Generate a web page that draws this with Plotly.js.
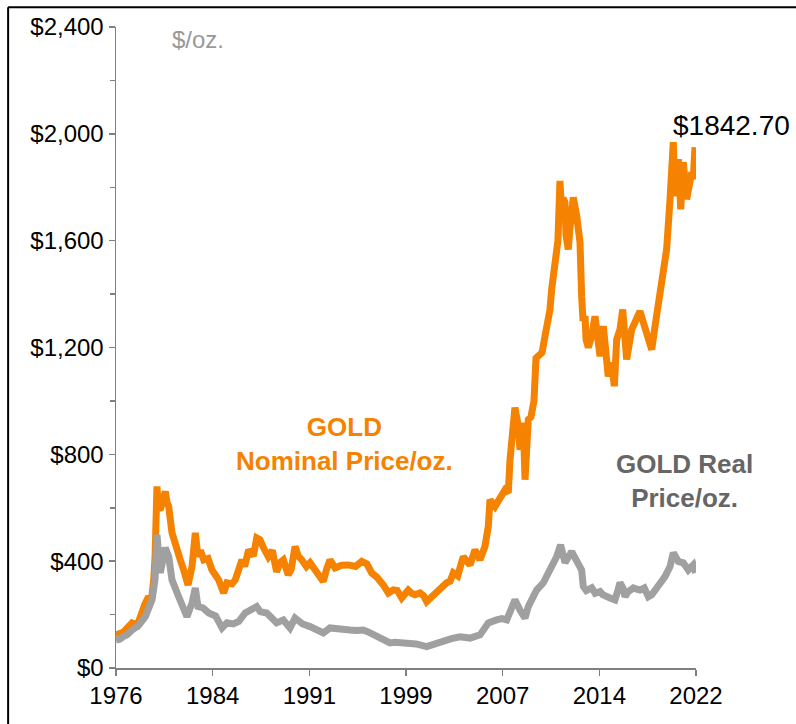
<!DOCTYPE html>
<html>
<head>
<meta charset="utf-8">
<script src="https://cdn.plot.ly/plotly-3.0.1.min.js"></script>
<style>
html,body{margin:0;padding:0;background:#fff;}
#chart{width:796px;height:724px;}
</style>
</head>
<body>
<div id="chart"></div>
<script>
// Nominal gold price ($/oz.), decimal years
const nominalYears = [1976.00,1976.3,1976.6,1976.9,1977.27,1977.7,1978.06,1978.3,1978.59,1978.8,1978.99,1979.1,1979.25,1979.35,1979.51,1979.7,1979.91,1980.05,1980.18,1980.44,1980.70,1980.9,1981.10,1981.37,1981.71,1982.03,1982.29,1982.50,1982.7,1982.96,1983.3,1983.61,1984.14,1984.54,1984.80,1985.2,1985.46,1985.99,1986.2,1986.52,1986.9,1987.16,1987.42,1987.7,1987.95,1988.08,1988.4,1988.74,1989.0,1989.27,1989.66,1989.9,1990.20,1990.45,1990.73,1991.1,1991.39,1991.78,1992.18,1992.44,1992.7,1992.97,1993.37,1993.9,1994.42,1995.0,1995.49,1995.9,1996.28,1996.7,1997.20,1997.60,1997.99,1998.3,1998.66,1999.18,1999.45,1999.71,2000.11,2000.4,2000.64,2001.0,2001.30,2001.8,2002.23,2002.5,2002.75,2003.1,2003.54,2004.08,2004.47,2004.87,2005.26,2005.53,2005.66,2006.06,2006.45,2006.85,2007.11,2007.25,2007.64,2007.91,2008.04,2008.30,2008.44,2008.70,2008.91,2009.15,2009.31,2009.63,2009.79,2010.02,2010.42,2010.55,2010.82,2010.95,2011.05,2011.21,2011.35,2011.45,2011.61,2011.69,2011.87,2012.01,2012.27,2012.54,2012.80,2012.93,2013.04,2013.20,2013.28,2013.46,2013.73,2013.99,2014.23,2014.39,2014.65,2014.86,2015.04,2015.31,2015.52,2015.71,2015.97,2016.19,2016.37,2016.50,2016.90,2017.30,2017.56,2017.82,2018.22,2018.49,2018.75,2019.14,2019.41,2019.67,2019.94,2020.20,2020.33,2020.60,2020.79,2020.99,2021.26,2021.47,2021.66,2021.78,2021.92];
const nominalPrice = [124,130,135,150,169,160,218,240,267,250,330,420,680,600,592,640,661,620,605,506,456,430,405,367,311,380,506,417,440,405,410,367,330,281,319,315,330,405,380,442,420,487,480,450,431,417,440,360,395,405,349,370,455,420,405,380,394,367,342,324,370,405,375,385,386,380,399,390,356,340,311,281,292,290,262,292,280,274,281,270,249,265,281,295,319,325,356,345,417,386,442,405,455,530,630,605,642,667,656,780,975,905,817,919,705,930,940,1000,1160,1170,1181,1242,1342,1417,1542,1556,1600,1824,1692,1760,1744,1620,1567,1650,1762,1692,1594,1392,1300,1317,1230,1200,1242,1317,1250,1167,1280,1200,1092,1143,1055,1230,1267,1342,1242,1155,1267,1317,1336,1294,1230,1192,1280,1417,1519,1567,1755,1969,1767,1905,1717,1894,1755,1805,1856,1830,1950];

// Real (inflation-adjusted) gold price ($/oz.)
const realYears = [1976.00,1976.3,1976.6,1976.9,1977.27,1977.8,1978.32,1978.86,1979.09,1979.25,1979.51,1979.91,1980.18,1980.44,1980.97,1981.3,1981.63,1982.03,1982.29,1982.50,1982.9,1983.35,1983.9,1984.41,1984.80,1985.3,1985.73,1986.25,1986.7,1987.16,1987.44,1987.95,1988.3,1988.74,1989.27,1989.55,1989.80,1990.20,1990.8,1991.39,1991.9,1992.44,1992.97,1993.6,1994.56,1995.1,1995.61,1996.0,1996.68,1997.2,1997.73,1998.1,1998.52,1999.32,1999.8,2000.64,2001.3,2001.96,2002.6,2003.28,2004.08,2004.87,2005.53,2006.19,2006.6,2006.99,2007.64,2008.04,2008.44,2008.70,2009.36,2009.89,2010.42,2010.95,2011.26,2011.61,2012.14,2012.54,2012.93,2013.06,2013.3,2013.73,2014.0,2014.39,2014.6,2015.18,2015.57,2015.8,2015.97,2016.2,2016.37,2016.6,2017.03,2017.3,2017.56,2017.9,2018.22,2018.5,2018.88,2019.2,2019.54,2019.94,2020.20,2020.60,2020.99,2021.39,2021.78,2021.97];
const realPrice = [105,108,118,125,142,160,192,255,330,499,356,450,417,330,267,230,192,244,300,230,225,206,195,150,169,165,174,206,215,230,211,206,190,169,180,165,150,187,165,155,145,131,150,145,142,140,142,135,117,105,94,96,94,94,90,80,92,105,110,117,112,124,169,180,185,180,255,217,187,230,292,319,367,417,461,394,436,399,367,305,290,300,280,286,275,262,255,290,319,300,267,285,300,295,292,300,267,275,305,320,342,380,431,399,394,367,386,356];

const xTickVals = [1976, 1976+46/6, 1976+2*46/6, 1976+3*46/6, 1976+4*46/6, 1976+5*46/6, 2022];
const xTickText = ['1976','1984','1991','1999','2007','2014','2022'];

const orange = '#F58200';
const grayLine = '#A0A0A0';
const FONT = 'Arial, "Liberation Sans", sans-serif';

const traces = [
  {x: nominalYears, y: nominalPrice, type: 'scatter', mode: 'lines',
   line: {color: orange, width: 7}, hoverinfo: 'skip'},
  {x: realYears, y: realPrice, type: 'scatter', mode: 'lines',
   line: {color: grayLine, width: 7}, hoverinfo: 'skip'}
];

const layout = {
  width: 796, height: 724,
  margin: {l: 116, r: 100, t: 27, b: 56},
  paper_bgcolor: '#fff', plot_bgcolor: '#fff',
  showlegend: false,
  font: {family: FONT, size: 24, color: '#000'},
  xaxis: {
    range: [1976, 2022], tickmode: 'array', tickvals: xTickVals, ticktext: xTickText,
    showgrid: false, zeroline: false, showline: true, linecolor: '#808080', linewidth: 1.5,
    ticks: 'outside', ticklen: 6, tickcolor: '#808080', tickwidth: 1.5,
    tickfont: {family: FONT, size: 24, color: '#000'}
  },
  yaxis: {
    range: [0, 2400], dtick: 400, tick0: 0, tickprefix: '$', tickformat: ',d',
    showgrid: false, zeroline: false, showline: true, linecolor: '#808080', linewidth: 1.5,
    ticks: 'outside', ticklen: 6, tickcolor: '#808080', tickwidth: 1.5,
    tickfont: {family: FONT, size: 24, color: '#000'},
    minor: {dtick: 200, ticks: 'outside', ticklen: 5, tickcolor: '#808080', tickwidth: 1.5, showgrid: false}
  },
  shapes: [
    {type: 'line', xref: 'paper', yref: 'paper', x0: -0.186, x1: 1.3, y0: 1.031, y1: 1.031,
     line: {color: '#000', width: 2}},
    {type: 'line', xref: 'paper', yref: 'paper', x0: -0.186, x1: -0.186, y0: 1.031, y1: -0.2,
     line: {color: '#000', width: 2}}
  ],
  annotations: [
    {x: 1980.30, y: 2355, xref: 'x', yref: 'y', xanchor: 'left', yanchor: 'middle',
     text: '$/oz.', showarrow: false, font: {family: FONT, size: 24, color: '#999999'}},
    {x: 2020.05, y: 2032, xref: 'x', yref: 'y', xanchor: 'left', yanchor: 'middle',
     text: '$1842.70', showarrow: false, font: {family: FONT, size: 28, color: '#000'}},
    {x: 1994.16, y: 840, xref: 'x', yref: 'y', xanchor: 'center', yanchor: 'middle',
     text: '<b>GOLD</b><br><b>Nominal Price/oz.</b>', showarrow: false, align: 'center',
     font: {family: FONT, size: 26, color: orange}},
    {x: 2021.05, y: 701, xref: 'x', yref: 'y', xanchor: 'center', yanchor: 'middle',
     text: '<b>GOLD Real</b><br><b>Price/oz.</b>', showarrow: false, align: 'center',
     font: {family: FONT, size: 26, color: '#666666'}}
  ]
};

Plotly.newPlot('chart', traces, layout, {staticPlot: true, displayModeBar: false});
</script>
</body>
</html>
